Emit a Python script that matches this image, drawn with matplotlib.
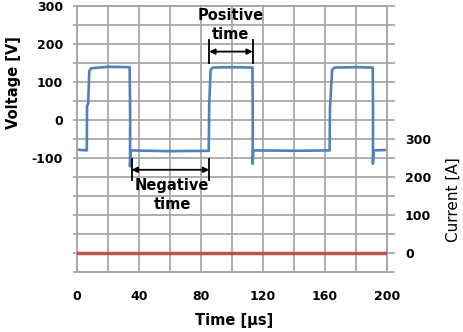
import numpy as np
import matplotlib
matplotlib.use("Agg")
import matplotlib.pyplot as plt
from matplotlib.ticker import FixedLocator, FuncFormatter

# Voltage waveform breakpoints (time in µs, voltage in V)
time_us = [0, 6.3, 6.5, 7.2, 7.9, 9.0, 20, 34.0, 34.3, 34.2, 34.7, 60, 85.0,
           85.3, 86.2, 87.5, 100, 113.2, 113.4, 113.3, 113.8, 140, 163.0,
           163.2, 164.6, 166.0, 180, 190.8, 191.0, 190.9, 191.4, 200]
voltage_v = [-78, -80, 38, 42, 128, 136, 140, 139, 0, -122, -80, -82, -81,
             40, 132, 138, 139, 138, 0, -115, -80, -81, -80,
             30, 132, 138, 139, 138, 0, -115, -80, -79]

# Load current (A)
current_t = [0, 200]
current_a = [0, 0]

# Axis ranges and labelled ticks
x_ticks = [0, 40, 80, 120, 160, 200]
v_grid = list(range(-400, 301, 50))
v_labels = [-100, 0, 100, 200, 300]
i_grid = list(range(-50, 651, 50))
i_labels = [0, 100, 200, 300]

GRID = "#a8a8a8"
BLUE = "#4f81bd"
RED = "#c0504d"

fig = plt.figure(figsize=(4.63, 3.32), dpi=100)
ax = fig.add_axes([77 / 463, 60 / 332, 310 / 463, 266 / 332])
ax2 = ax.twinx()

ax.set_xlim(0, 200)
ax.set_ylim(-400, 300)
ax2.set_ylim(-50, 650)

ax.xaxis.set_major_locator(FixedLocator(x_ticks))
ax.xaxis.set_minor_locator(FixedLocator(list(range(0, 201, 20))))
ax.yaxis.set_major_locator(FixedLocator(v_grid))
ax.yaxis.set_major_formatter(FuncFormatter(lambda v, p: f"{int(v)}" if int(v) in v_labels else ""))
ax2.yaxis.set_major_locator(FixedLocator(i_grid))
ax2.yaxis.set_major_formatter(FuncFormatter(lambda v, p: f"{int(v)}" if int(v) in i_labels else ""))

ax.grid(True, which="both", axis="x", color=GRID, lw=1.3)
ax.grid(True, which="major", axis="y", color=GRID, lw=1.3)
ax.set_axisbelow(True)

for a in (ax, ax2):
    for s in a.spines.values():
        s.set_color(GRID)
        s.set_linewidth(1.3)

ax.tick_params(axis="x", which="both", length=0, pad=13)
ax.tick_params(axis="y", length=3, width=1.3, color=GRID, pad=7)
ax2.tick_params(axis="y", length=6, width=1.3, color=GRID, pad=7)
for lbl in ax.get_xticklabels() + ax.get_yticklabels() + ax2.get_yticklabels():
    lbl.set_fontsize(9)
    lbl.set_fontweight("bold")

ax.plot(time_us, voltage_v, color=BLUE, lw=1.9, zorder=3)
ax2.plot(current_t, current_a, color=RED, lw=2.5, zorder=3)

# Pulse-width annotations
def span(x0, x1, y, y_lo, y_hi):
    ax.plot([x0, x0], [y_lo, y_hi], color="black", lw=1.3, zorder=4)
    ax.plot([x1, x1], [y_lo, y_hi], color="black", lw=1.3, zorder=4)
    ax.annotate("", xy=(x0, y), xytext=(x1, y),
                arrowprops=dict(arrowstyle="<|-|>", color="black", lw=1.3,
                                mutation_scale=8, shrinkA=0, shrinkB=0), zorder=4)

span(85.3, 113.4, 180, 151, 211)
span(35.2, 85.3, -131, -159, -102)

ax.text(99, 250, "Positive\ntime", ha="center", va="center", fontsize=10.5,
        fontweight="bold", linespacing=1.3, zorder=5)
ax.text(61.3, -197, "Negative\ntime", ha="center", va="center", fontsize=10.5,
        fontweight="bold", linespacing=1.3, zorder=5)

fig.text(14 / 463, 1 - 83 / 332, "Voltage [V]", rotation=90, ha="center", va="center",
         fontsize=10.5, fontweight="bold")
fig.text(453 / 463, 1 - 200 / 332, "Current [A]", rotation=90, ha="center", va="center",
         fontsize=11, fontweight="normal")
fig.text(234 / 463, 1 - 320 / 332, "Time [µs]", ha="center", va="center",
         fontsize=10.5, fontweight="bold")

fig.savefig("out.png", dpi=100)
